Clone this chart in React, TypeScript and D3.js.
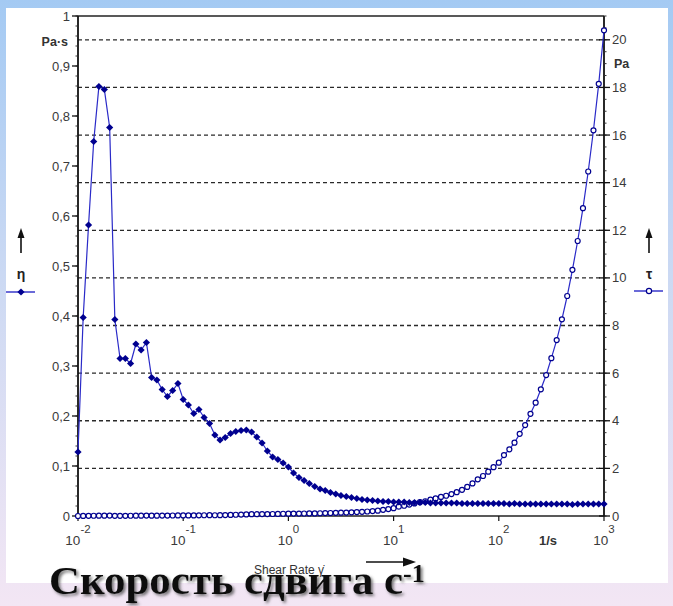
import React from "react";
import * as d3 from "d3";

// Shear rate ramp, 1/s
const shearRate = [
  0.01, 0.0112, 0.0126, 0.0141, 0.0158, 0.0178, 0.02, 0.0224, 0.0251, 0.0282,
  0.0316, 0.0355, 0.0398, 0.0447, 0.0501, 0.0562, 0.0631, 0.0708, 0.0794, 0.0891,
  0.1, 0.112, 0.126, 0.141, 0.158, 0.178, 0.2, 0.224, 0.251, 0.282,
  0.316, 0.355, 0.398, 0.447, 0.501, 0.562, 0.631, 0.708, 0.794, 0.891,
  1, 1.12, 1.26, 1.41, 1.58, 1.78, 2, 2.24, 2.51, 2.82,
  3.16, 3.55, 3.98, 4.47, 5.01, 5.62, 6.31, 7.08, 7.94, 8.91,
  10, 11.2, 12.6, 14.1, 15.8, 17.8, 20, 22.4, 25.1, 28.2,
  31.6, 35.5, 39.8, 44.7, 50.1, 56.2, 63.1, 70.8, 79.4, 89.1,
  100, 112, 126, 141, 158, 178, 200, 224, 251, 282,
  316, 355, 398, 447, 501, 562, 631, 708, 794, 891,
  1000,
];

// Viscosity η, Pa·s
const viscosity = [
  0.128, 0.397, 0.582, 0.749, 0.859, 0.853, 0.777, 0.393, 0.315, 0.315,
  0.305, 0.344, 0.332, 0.347, 0.277, 0.272, 0.253, 0.239, 0.251, 0.265,
  0.233, 0.222, 0.205, 0.213, 0.197, 0.185, 0.162, 0.152, 0.157, 0.165,
  0.169, 0.171, 0.172, 0.168, 0.158, 0.146, 0.13, 0.118, 0.113, 0.106,
  0.098, 0.086, 0.077, 0.071, 0.065, 0.059, 0.054, 0.051, 0.047, 0.044,
  0.041, 0.039, 0.037, 0.035, 0.033, 0.032, 0.031, 0.03, 0.029, 0.029,
  0.028, 0.028, 0.028, 0.027, 0.027, 0.027, 0.027, 0.026, 0.026, 0.026,
  0.026, 0.026, 0.026, 0.025, 0.025, 0.025, 0.025, 0.025, 0.025, 0.025,
  0.025, 0.025, 0.024, 0.025, 0.024, 0.024, 0.024, 0.024, 0.024, 0.024,
  0.024, 0.024, 0.024, 0.024, 0.023, 0.024, 0.024, 0.024, 0.024, 0.024,
  0.024,
];

// Shear stress τ, Pa
const shearStress = [
  0.001, 0.004, 0.007, 0.011, 0.014, 0.015, 0.016, 0.009, 0.008, 0.009,
  0.01, 0.012, 0.013, 0.016, 0.014, 0.015, 0.016, 0.017, 0.02, 0.024,
  0.023, 0.025, 0.026, 0.03, 0.031, 0.033, 0.032, 0.034, 0.04, 0.046,
  0.053, 0.061, 0.068, 0.075, 0.077, 0.08, 0.082, 0.083, 0.089, 0.094,
  0.098, 0.102, 0.103, 0.106, 0.109, 0.11, 0.115, 0.121, 0.127, 0.133,
  0.138, 0.145, 0.156, 0.165, 0.175, 0.19, 0.205, 0.225, 0.26, 0.29,
  0.33, 0.39, 0.43, 0.48, 0.53, 0.58, 0.62, 0.69, 0.74, 0.8,
  0.85, 0.92, 1.0, 1.1, 1.22, 1.37, 1.54, 1.68, 1.86, 2.05,
  2.24, 2.56, 2.8, 3.08, 3.45, 3.82, 4.29, 4.76, 5.32, 5.92,
  6.63, 7.39, 8.26, 9.24, 10.34, 11.55, 12.93, 14.47, 16.2, 18.15,
  20.4,
];

const leftTicks = [0, 0.1, 0.2, 0.3, 0.4, 0.5, 0.6, 0.7, 0.8, 0.9, 1];
const leftTickLabels = ["0", "0,1", "0,2", "0,3", "0,4", "0,5", "0,6", "0,7", "0,8", "0,9", "1"];
const rightTicks = [0, 2, 4, 6, 8, 10, 12, 14, 16, 18, 20];
const xDecades = [-2, -1, 0, 1, 2, 3];

const W = 673;
const H = 606;
const X0 = 78;
const X1 = 604;
const Y0 = 516;
const Y1 = 16;

const LINE = "#2a2ac8";
const MARK = "#00008f";
const AXIS_TEXT = "#3a3a3a";

export default function App() {
  const x = d3.scaleLog().domain([0.01, 1000]).range([X0, X1]);
  const yL = d3.scaleLinear().domain([0, 1]).range([Y0, Y1]);
  const yR = d3.scaleLinear().domain([0, 21]).range([Y0, Y1]);

  const etaPts = shearRate.map((r, i) => [x(r), yL(viscosity[i])] as [number, number]);
  const tauPts = shearRate.map((r, i) => [x(r), yR(shearStress[i])] as [number, number]);
  const line = d3.line();

  const diamond = d3.symbol(d3.symbolSquare, 26)() as string;

  const leftMinor = d3.range(0, 1.0001, 0.02);
  const rightMinor = d3.range(0, 21.0001, 0.5);

  return (
    <svg
      width={W}
      height={H}
      viewBox={`0 0 ${W} ${H}`}
      style={{ position: "absolute", left: 0, top: 0 }}
      fontFamily="Arial, 'Liberation Sans', sans-serif"
    >
      <defs>
        <linearGradient id="bg" x1="0" y1="0" x2="0" y2="1">
          <stop offset="0" stopColor="#a4caf3" />
          <stop offset="0.45" stopColor="#cbd9f3" />
          <stop offset="1" stopColor="#f3e6f4" />
        </linearGradient>
        <filter id="shadow" x="-5%" y="-20%" width="110%" height="150%">
          <feDropShadow dx="2" dy="2" stdDeviation="1.4" floodColor="#555" floodOpacity="0.8" />
        </filter>
      </defs>

      <rect x={0} y={0} width={W} height={H} fill="url(#bg)" />
      <rect x={6} y={8} width={662} height={575} fill="#ffffff" />

      {/* dashed grid on the stress axis */}
      {rightTicks
        .filter((t) => t > 0)
        .map((t) => (
          <line
            key={`g${t}`}
            x1={X0}
            x2={X1}
            y1={yR(t)}
            y2={yR(t)}
            stroke="#2a2a2a"
            strokeWidth={1.3}
            strokeDasharray="4 3"
          />
        ))}

      {/* frame */}
      <line x1={X0} x2={X1} y1={Y1} y2={Y1} stroke="#222" strokeWidth={1.3} />
      <line x1={X0} x2={X1} y1={Y0} y2={Y0} stroke="#222" strokeWidth={1.3} />
      <line x1={X0} x2={X0} y1={Y1} y2={Y0} stroke="#111" strokeWidth={1.8} />
      <line x1={X1} x2={X1} y1={Y1} y2={Y0} stroke="#111" strokeWidth={1.8} />

      {/* left axis ticks */}
      {leftMinor.map((t, i) => (
        <line key={`lm${i}`} x1={X0 - 2.5} x2={X0} y1={yL(t)} y2={yL(t)} stroke="#333" strokeWidth={1} />
      ))}
      {leftTicks.map((t, i) => (
        <g key={`lt${i}`}>
          <line x1={X0 - 6} x2={X0} y1={yL(t)} y2={yL(t)} stroke="#111" strokeWidth={1.3} />
          <text x={X0 - 8} y={yL(t)} dy="0.35em" textAnchor="end" fontSize={13} fill={AXIS_TEXT}>
            {leftTickLabels[i]}
          </text>
        </g>
      ))}
      <text x={68} y={42} dy="0.35em" textAnchor="end" fontSize={12.5} fontWeight="bold" fill="#333">
        Pa·s
      </text>

      {/* right axis ticks */}
      {rightMinor.map((t, i) => (
        <line key={`rm${i}`} x1={X1} x2={X1 + 2.5} y1={yR(t)} y2={yR(t)} stroke="#333" strokeWidth={1} />
      ))}
      {rightTicks.map((t) => (
        <g key={`rt${t}`}>
          <line x1={X1 - 5} x2={X1 + 6} y1={yR(t)} y2={yR(t)} stroke="#111" strokeWidth={1.3} />
          <text x={X1 + 8} y={yR(t)} dy="0.35em" textAnchor="start" fontSize={13} fill={AXIS_TEXT}>
            {t}
          </text>
        </g>
      ))}
      <text x={614} y={64} dy="0.35em" textAnchor="start" fontSize={12.5} fontWeight="bold" fill="#333">
        Pa
      </text>

      {/* x axis decades */}
      {xDecades.map((e) => (
        <g key={`xd${e}`}>
          <line x1={x(10 ** e)} x2={x(10 ** e)} y1={Y0} y2={Y0 + 5} stroke="#111" strokeWidth={1.2} />
          <text x={x(10 ** e)} y={545} textAnchor="middle" fontSize={13.5} fill={AXIS_TEXT}>
            <tspan>10</tspan>
            <tspan dy={-12} fontSize={11.5}>
              {e}
            </tspan>
          </text>
        </g>
      ))}
      <text x={548} y={545} textAnchor="middle" fontSize={13} fontWeight="bold" fill="#333">
        1/s
      </text>

      {/* shear stress τ */}
      <path d={line(tauPts) as string} fill="none" stroke={LINE} strokeWidth={1.2} />
      {tauPts.map((p, i) => (
        <circle key={`t${i}`} cx={p[0]} cy={p[1]} r={2.5} fill="#fff" stroke={MARK} strokeWidth={1.2} />
      ))}

      {/* viscosity η */}
      <path d={line(etaPts) as string} fill="none" stroke={LINE} strokeWidth={1.2} />
      {etaPts.map((p, i) => (
        <path key={`e${i}`} d={diamond} transform={`translate(${p[0]},${p[1]}) rotate(45)`} fill={MARK} />
      ))}

      {/* left legend: η */}
      <line x1={21} x2={21} y1={253} y2={236} stroke="#111" strokeWidth={1.6} />
      <polygon points="21,228 17.5,238 24.5,238" fill="#111" />
      <text x={21} y={279} textAnchor="middle" fontSize={14} fontWeight="bold" fill="#222">
        η
      </text>
      <line x1={6} x2={35} y1={292} y2={292} stroke={LINE} strokeWidth={1.4} />
      <path d={diamond} transform="translate(21,292) rotate(45)" fill={MARK} />

      {/* right legend: τ */}
      <line x1={649} x2={649} y1={253} y2={236} stroke="#111" strokeWidth={1.6} />
      <polygon points="649,228 645.5,238 652.5,238" fill="#111" />
      <text x={649} y={279} textAnchor="middle" fontSize={14} fontWeight="bold" fill="#222">
        τ
      </text>
      <line x1={634} x2={663} y1={291} y2={291} stroke={LINE} strokeWidth={1.4} />
      <circle cx={649} cy={291} r={2.6} fill="#fff" stroke={MARK} strokeWidth={1.2} />

      {/* axis caption */}
      <text x={254} y={574} fontSize={12} fill="#333">
        Shear Rate γ̇
      </text>
      <line x1={366} x2={404} y1={562} y2={562} stroke="#111" strokeWidth={1.5} />
      <polygon points="416,562 403,557.5 403,566.5" fill="#111" />

      {/* Russian title */}
      <g filter="url(#shadow)" fill="#111" fontFamily="'Liberation Serif', 'Times New Roman', serif" fontWeight="bold">
        <text x={49} y={594} fontSize={40} textLength={354} lengthAdjust="spacingAndGlyphs">
          Скорость сдвига с
        </text>
        <text x={403} y={582} fontSize={26}>
          -1
        </text>
      </g>
    </svg>
  );
}
